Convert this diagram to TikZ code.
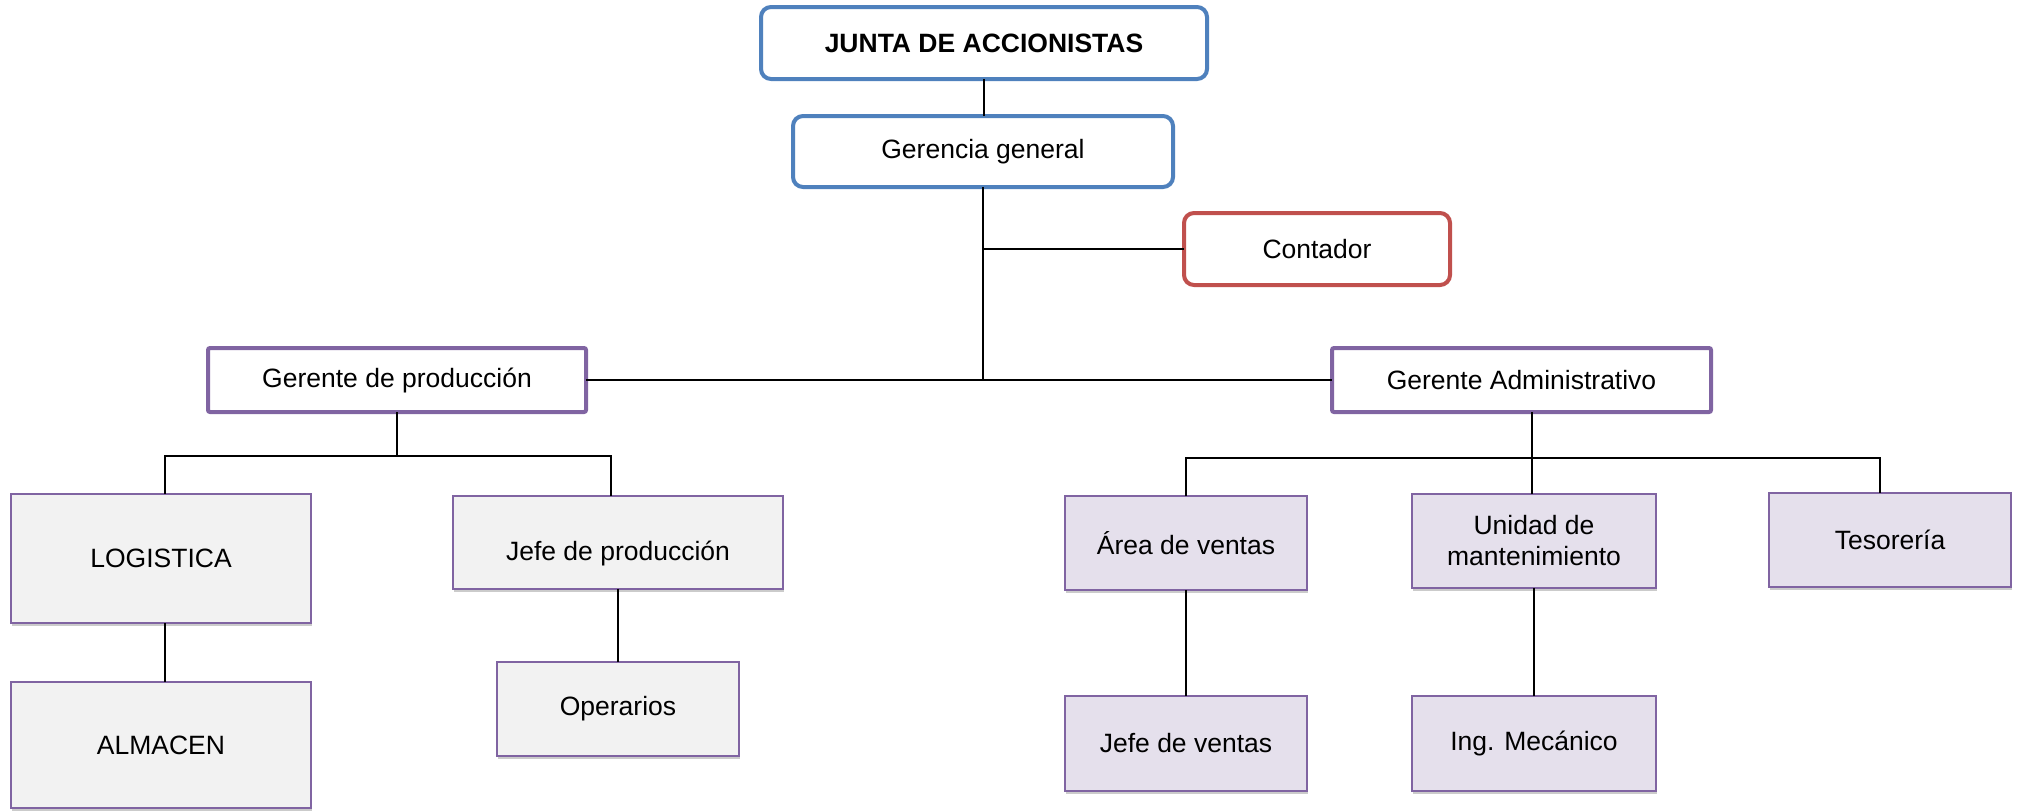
\documentclass[tikz,border=0pt]{standalone}
\usepackage{fontspec}
\setmainfont{Liberation Sans}
\usetikzlibrary{shadows}
\definecolor{cblue}{HTML}{4F81BD}
\definecolor{cred}{HTML}{C0504D}
\definecolor{cpurple}{HTML}{8064A2}
\definecolor{cgray}{HTML}{F2F2F2}
\definecolor{clav}{HTML}{E5E0EC}
\tikzset{
  sz/.style 2 args={minimum width=#1*0.5pt, minimum height=#2*0.5pt},
  base/.style={inner sep=1pt, outer sep=0pt, align=center, font=\fontsize{13.25}{15.5}\selectfont},
  topbox/.style={base, draw=cblue, line width=2pt, rounded corners=5pt, fill=white},
  redbox/.style={base, draw=cred, line width=2pt, rounded corners=5pt, fill=white},
  mgrbox/.style={base, draw=cpurple, line width=2pt, rounded corners=1pt, fill=white},
  graybox/.style={base, draw=cpurple, line width=0.8pt, fill=cgray,
    drop shadow={shadow xshift=0.6pt, shadow yshift=-1.6pt, fill=black!45, opacity=0.45}},
  lavbox/.style={base, draw=cpurple, line width=0.8pt, fill=clav,
    drop shadow={shadow xshift=0.6pt, shadow yshift=-1.6pt, fill=black!45, opacity=0.45}},
  conn/.style={draw=black, line width=0.85pt}
}
\begin{document}
\begin{tikzpicture}[x=0.5pt,y=-0.5pt]
\useasboundingbox (0,0) rectangle (2018,810);
% top
\node[topbox, sz={446}{72}] (junta) at (984,43) {\textbf{JUNTA DE ACCIONISTAS}};
\node[topbox, sz={380}{71}] (gerencia) at (983,151.5) {Gerencia general};
\node[redbox, sz={266}{72}] (contador) at (1317,249) {Contador};
% managers
\node[mgrbox, sz={378}{64}] (gprod) at (397,380) {Gerente de producción};
\node[mgrbox, sz={379}{64}] (gadmin) at (1521.5,380) {Gerente Administrativo};
% production side
\node[graybox, sz={300}{129}] (logistica) at (161,558.5) {LOGISTICA};
\node[graybox, sz={300}{126}] (almacen) at (161,745) {ALMACEN};
\node[graybox, sz={330}{93}, text height=20.6pt] (jefeprod) at (618,542.5) {Jefe de producción};
\node[graybox, sz={242}{94}] (operarios) at (618,709) {Operarios};
% admin side
\node[lavbox, sz={242}{94}] (area) at (1186,543) {Área de ventas};
\node[lavbox, sz={244}{94}] (unidad) at (1534,541) {Unidad de\\mantenimiento};
\node[lavbox, sz={242}{94}] (tesoreria) at (1890,540) {Tesorería};
\node[lavbox, sz={242}{95}] (jefeventas) at (1186,743.5) {Jefe de ventas};
\node[lavbox, sz={244}{95}] (ing) at (1534,743.5) {Ing. Mecánico};
% hub coordinates
\coordinate (hub) at (gerencia.south |- gprod.east);
\coordinate (busP) at (397,456);
\coordinate (busA) at (1532,458);
% connectors
\draw[conn] (junta.south) -- (junta.south |- gerencia.north);
\draw[conn] (gerencia.south) -- (hub);
\draw[conn] (gerencia.south |- contador.west) -- (contador.west);
\draw[conn] (gprod.east) -- (hub) -- (gadmin.west);
\draw[conn] (gprod.south) -- (busP);
\draw[conn] ([xshift=2pt]logistica.north) |- (busP) -| ([xshift=-3.5pt]jefeprod.north);
\draw[conn] ([xshift=2pt]logistica.south) -- ([xshift=2pt]almacen.north);
\draw[conn] (jefeprod.south) -- (operarios.north);
\draw[conn] (busA |- gadmin.south) -- (busA |- unidad.north);
\draw[conn] (area.north) |- (busA) -| ([xshift=-5pt]tesoreria.north);
\draw[conn] (area.south) -- (jefeventas.north);
\draw[conn] (unidad.south) -- (ing.north);
\end{tikzpicture}
\end{document}
